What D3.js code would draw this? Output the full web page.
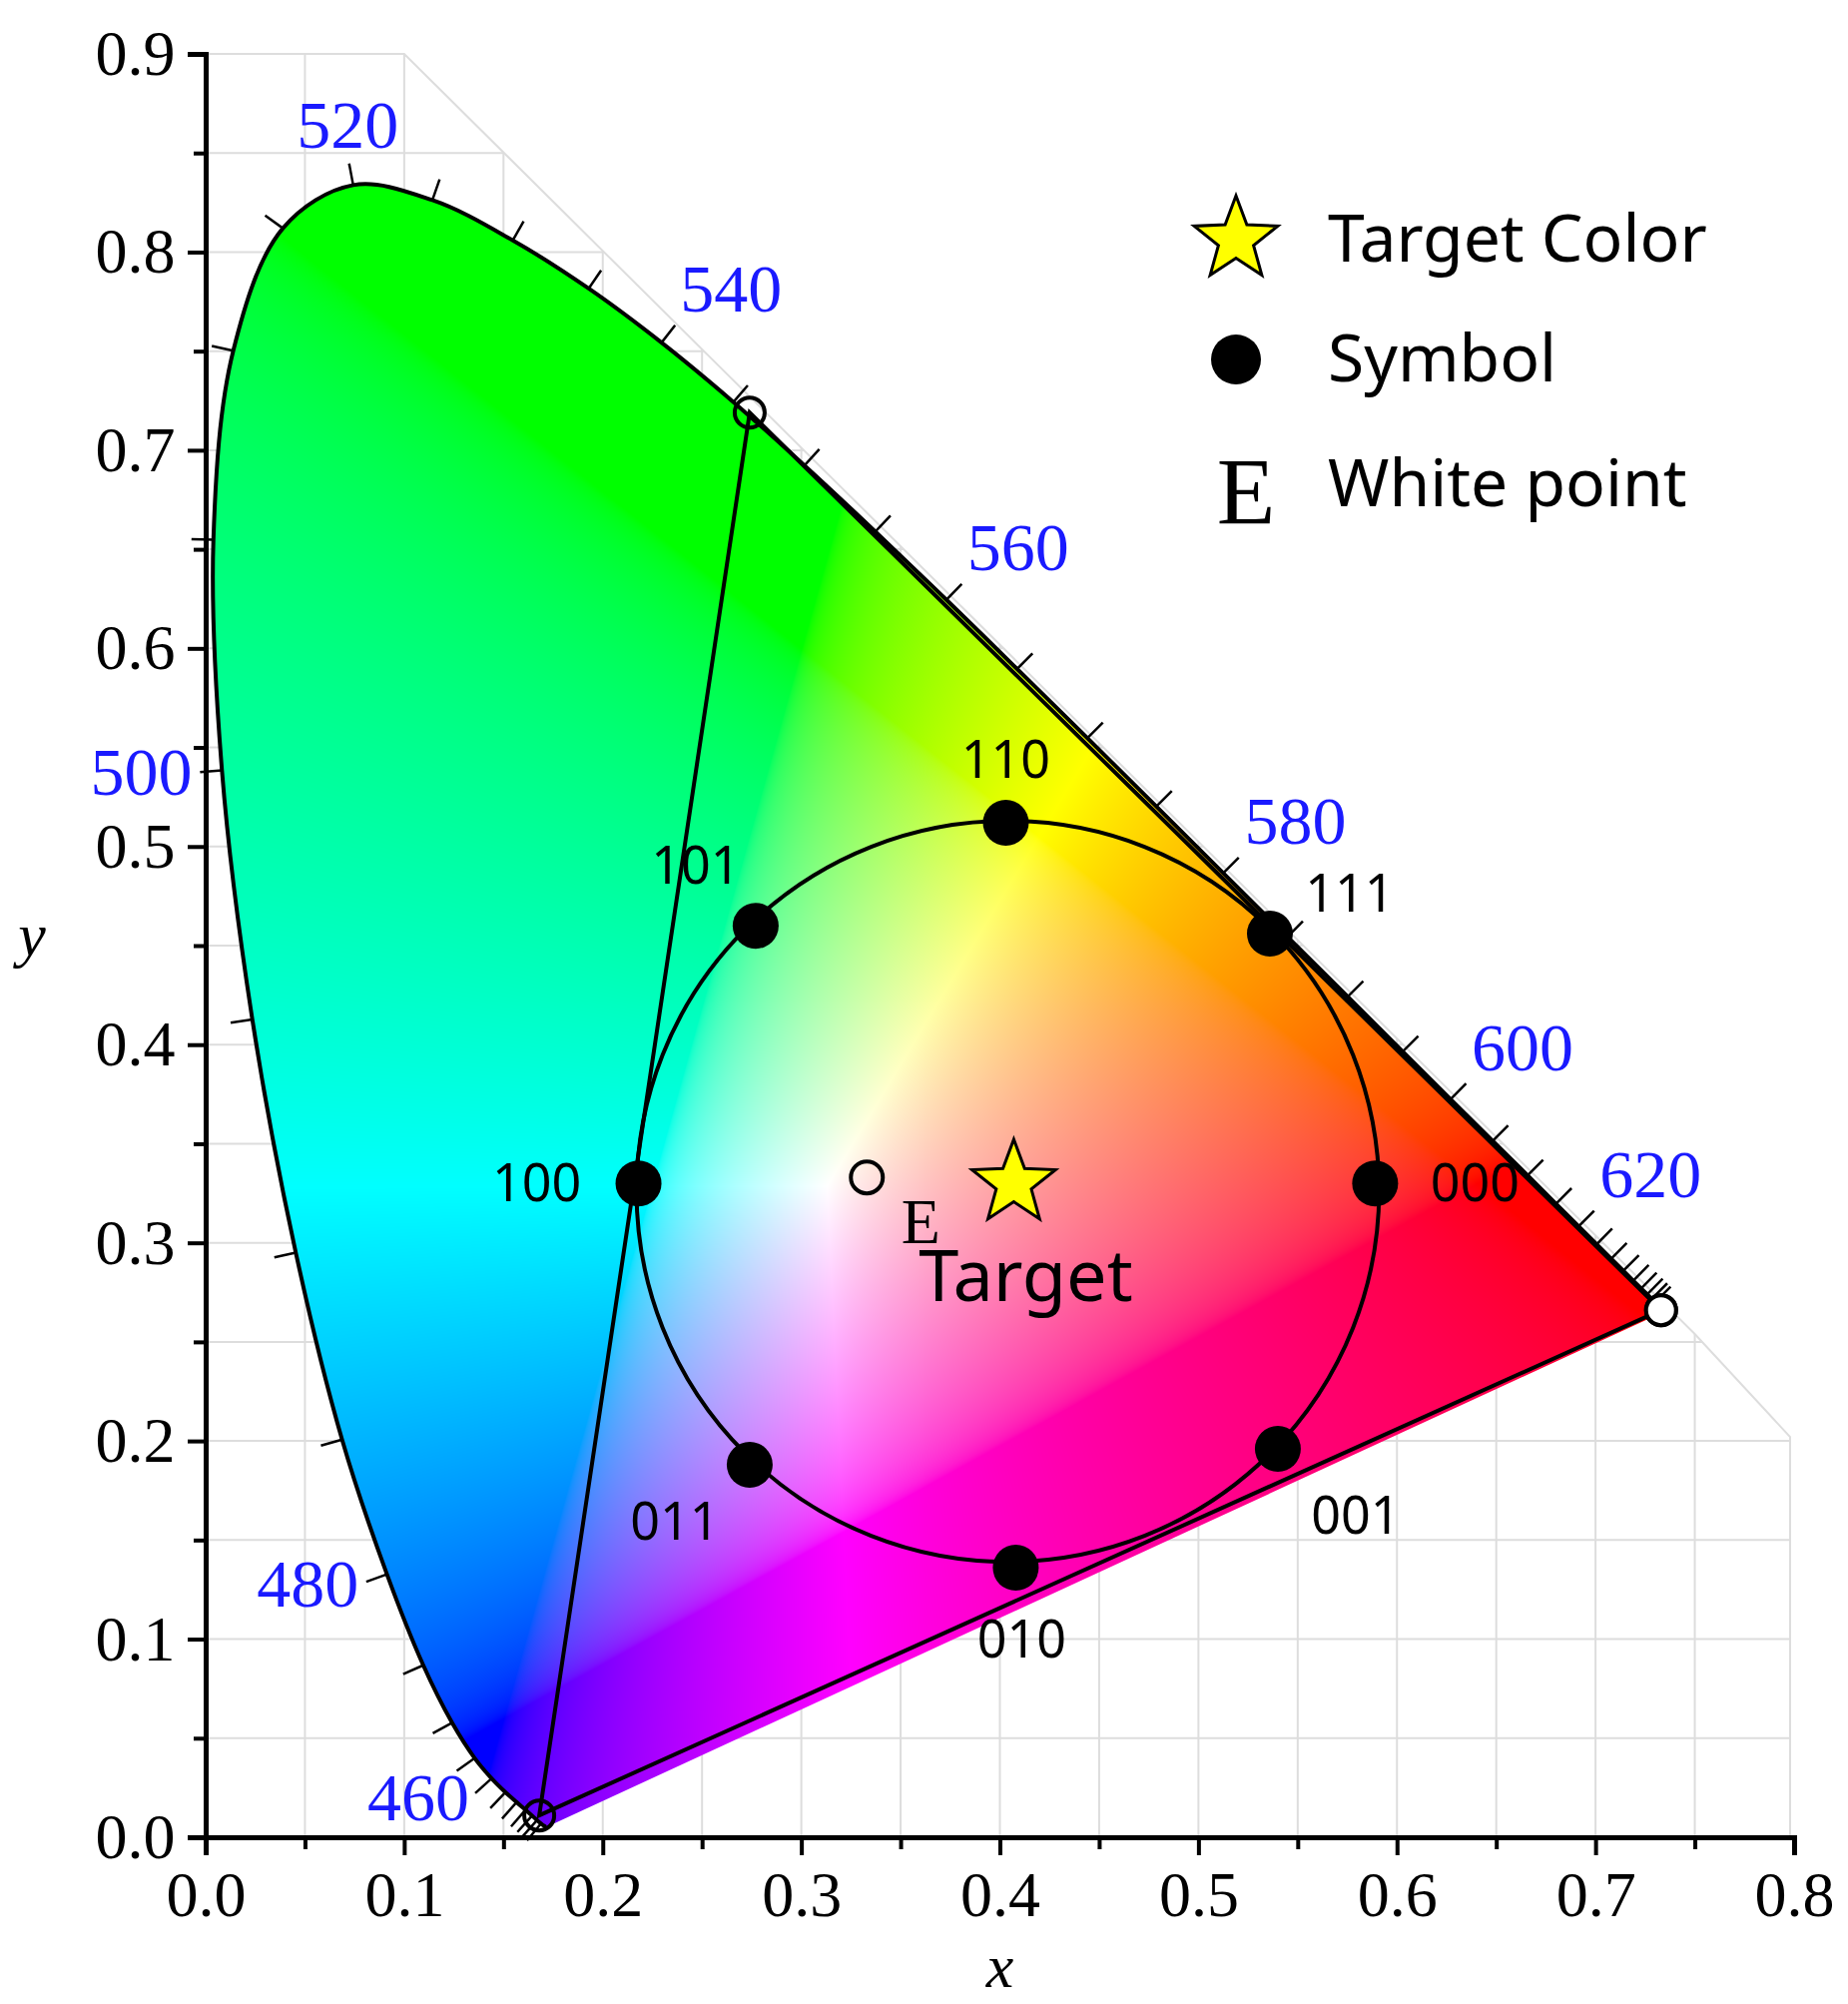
<!DOCTYPE html>
<html><head><meta charset="utf-8">
<script src="https://cdn.jsdelivr.net/npm/d3@7"></script>
<style>body{margin:0;background:#fff}</style>
</head><body><svg id="c" width="1851" height="2007"></svg>
<script>
// CIE 1931 spectral locus, [nm, x, y]
var locus = [
[380,0.1741,0.0050],[385,0.1740,0.0050],[390,0.1738,0.0049],[395,0.1736,0.0049],[400,0.1733,0.0048],
[405,0.1730,0.0048],[410,0.1726,0.0048],[415,0.1721,0.0048],[420,0.1714,0.0051],[425,0.1703,0.0058],
[430,0.1689,0.0069],[435,0.1669,0.0086],[440,0.1644,0.0109],[445,0.1611,0.0138],[450,0.1566,0.0177],
[455,0.1510,0.0227],[460,0.1440,0.0297],[465,0.1355,0.0399],[470,0.1241,0.0578],[475,0.1096,0.0868],
[480,0.0913,0.1327],[485,0.0687,0.2007],[490,0.0454,0.2950],[495,0.0235,0.4127],[500,0.0082,0.5384],
[505,0.0039,0.6548],[510,0.0139,0.7502],[515,0.0389,0.8120],[520,0.0743,0.8338],[525,0.1142,0.8262],
[530,0.1547,0.8059],[535,0.1929,0.7816],[540,0.2296,0.7543],[545,0.2658,0.7243],[550,0.3016,0.6923],
[555,0.3373,0.6589],[560,0.3731,0.6245],[565,0.4087,0.5896],[570,0.4441,0.5547],[575,0.4788,0.5202],
[580,0.5125,0.4866],[585,0.5448,0.4544],[590,0.5752,0.4242],[595,0.6029,0.3965],[600,0.6270,0.3725],
[605,0.6482,0.3514],[610,0.6658,0.3340],[615,0.6801,0.3197],[620,0.6915,0.3083],[625,0.7006,0.2993],
[630,0.7079,0.2920],[635,0.7140,0.2859],[640,0.7190,0.2809],[645,0.7230,0.2770],[650,0.7260,0.2740],
[655,0.7283,0.2717],[660,0.7300,0.2700],[665,0.7311,0.2689],[670,0.7320,0.2680],[680,0.7334,0.2666],
[690,0.7344,0.2656],[700,0.7347,0.2653]];
var tickNm = d3.range(430, 665, 5);
var labelNm = [460,480,500,520,540,560,580,600,620];

var gamut = [[0.733,0.266],[0.274,0.719],[0.168,0.011]];
var circleCenter = [0.404,0.326], circleR = 0.187;
var symbols = ["110","111","000","001","010","011","100","101"];
var symX = [0.403,0.536,0.589,0.540,0.408,0.274,0.218,0.277];
var symY = [0.512,0.456,0.330,0.196,0.136,0.188,0.330,0.460];
var symLabelOff = [[0,-45],[80,-22],[100,18],[78,85],[6,90],[-75,75],[-102,18],[-60,-42]];
var target = [0.407,0.330];
var whiteE = [0.333,0.333];
var gridOutline = [[0,0],[0,0.9],[0.1,0.9],[0.75,0.254],[0.798,0.202],[0.798,0],[0,0]];

var svg = d3.select("#c");
var x = d3.scaleLinear().domain([0,0.8]).range([206,1797]);
var y = d3.scaleLinear().domain([0,0.9]).range([1840,54]);
var serif = "'Liberation Serif', 'DejaVu Serif', serif";
var sans = "'Noto Sans', 'Open Sans', sans-serif";
var locusLine = d3.line().x(d=>x(d[1])).y(d=>y(d[2])).curve(d3.curveCatmullRom);
var locusIn = locus.filter(d=>d[0]>=420);

// grid
var defs = svg.append("defs");
defs.append("clipPath").attr("id","gclip").append("path")
  .attr("d", d3.line().x(d=>x(d[0])).y(d=>y(d[1]))(gridOutline));
defs.append("clipPath").attr("id","lclip").append("path")
  .attr("d", locusLine(locusIn)+"Z");
var g = svg.append("g").attr("clip-path","url(#gclip)");
d3.range(0.05,0.81,0.05).forEach(v=>g.append("line").attr("x1",x(v)).attr("x2",x(v)).attr("y1",y(0)).attr("y2",y(0.9)).attr("stroke","#ddd").attr("stroke-width",2));
d3.range(0.05,0.91,0.05).forEach(v=>g.append("line").attr("x1",x(0)).attr("x2",x(0.8)).attr("y1",y(v)).attr("y2",y(v)).attr("stroke","#ddd").attr("stroke-width",2));
svg.append("path").attr("d", d3.line().x(d=>x(d[0])).y(d=>y(d[1]))(gridOutline))
  .attr("fill","none").attr("stroke","#ddd").attr("stroke-width",2);

// chromaticity fill
var x0 = Math.floor(x(0)), x1 = Math.ceil(x(0.75)), y0 = Math.floor(y(0.85)), y1 = Math.ceil(y(0));
var cw = x1-x0, ch = y1-y0;
var cv = document.createElement("canvas"); cv.width = cw; cv.height = ch;
var ctx = cv.getContext("2d"), img = ctx.createImageData(cw, ch);
function gam(c){ return c<=0.0031308 ? 12.92*c : 1.055*Math.pow(c,1/2.4)-0.055; }
for (var j=0;j<ch;j++) for (var i=0;i<cw;i++) {
  var cx = x.invert(x0+i), cy = Math.max(y.invert(y0+j), 0.003);
  var X = cx/cy, Y = 1, Z = (1-cx-cy)/cy;
  var r = 3.2406*X-1.5372*Y-0.4986*Z, gg = -0.9689*X+1.8758*Y+0.0415*Z, b = 0.0557*X-0.2040*Y+1.0570*Z;
  r=Math.max(r,0); gg=Math.max(gg,0); b=Math.max(b,0);
  var m = Math.max(r,gg,b,1e-6);
  var k = (j*cw+i)*4;
  img.data[k]=255*gam(r/m); img.data[k+1]=255*gam(gg/m); img.data[k+2]=255*gam(b/m); img.data[k+3]=255;
}
ctx.putImageData(img,0,0);
svg.append("image").attr("x",x0).attr("y",y0).attr("width",cw).attr("height",ch)
  .attr("href", cv.toDataURL()).attr("clip-path","url(#lclip)");

// locus outline
svg.append("path").attr("d", locusLine(locusIn))
  .attr("fill","none").attr("stroke","#000").attr("stroke-width",4);

// locus ticks and labels (outward normal in screen coords)
function normalAt(nm){
  var idx = locus.findIndex(d=>d[0]===nm);
  var a = locus[Math.max(idx-1,0)], c = locus[Math.min(idx+1,locus.length-1)];
  var dx = x(c[1])-x(a[1]), dy = y(c[2])-y(a[2]);
  var L = Math.hypot(dx,dy);
  return {p:locus[idx], ox:dy/L, oy:-dx/L};
}
tickNm.forEach(function(nm){
  var n = normalAt(nm), px = x(n.p[1]), py = y(n.p[2]);
  svg.append("line").attr("x1",px).attr("y1",py).attr("x2",px+n.ox*22).attr("y2",py+n.oy*22)
    .attr("stroke","#000").attr("stroke-width",2.5);
});
labelNm.forEach(function(nm){
  var n = normalAt(nm), px = x(n.p[1]), py = y(n.p[2]);
  var anchor = n.ox < -0.4 ? "end" : (n.ox > 0.4 ? "start" : "middle");
  svg.append("text").attr("x",px+n.ox*30).attr("y",py+n.oy*30+(n.oy<-0.5? -8 : 22))
    .attr("text-anchor",anchor).attr("font-family",serif).attr("font-size",68)
    .attr("fill","#1a1aff").text(nm);
});

// gamut triangle
svg.append("path").attr("d", d3.line().x(d=>x(d[0])).y(d=>y(d[1]))(gamut)+"Z")
  .attr("fill","none").attr("stroke","#000").attr("stroke-width",4);
gamut.forEach(d=>svg.append("circle").attr("cx",x(d[0])).attr("cy",y(d[1])).attr("r",15)
  .attr("fill","none").attr("stroke","#000").attr("stroke-width",4));
svg.append("circle").attr("cx",x(gamut[0][0])).attr("cy",y(gamut[0][1])).attr("r",15).attr("fill","#fff").attr("stroke","#000").attr("stroke-width",4);

// symbol circle
svg.append("ellipse").attr("cx",x(circleCenter[0])).attr("cy",y(circleCenter[1]))
  .attr("rx",x(circleR)-x(0)).attr("ry",y(0)-y(circleR))
  .attr("fill","none").attr("stroke","#000").attr("stroke-width",4);
symbols.forEach(function(s,i){
  var px = x(symX[i]), py = y(symY[i]);
  svg.append("circle").attr("cx",px).attr("cy",py).attr("r",23).attr("fill","#000");
  svg.append("text").attr("x",px+symLabelOff[i][0]).attr("y",py+symLabelOff[i][1])
    .attr("text-anchor","middle").attr("font-family",sans).attr("font-size",52).text(s);
});

function star(cx,cy,R){
  var pts=[]; for (var k=0;k<10;k++){ var a=-Math.PI/2+k*Math.PI/5, rr = k%2?R*0.42:R; pts.push([cx+rr*Math.cos(a), cy+rr*Math.sin(a)]); }
  return d3.line()(pts)+"Z";
}
svg.append("path").attr("d",star(x(target[0]),y(target[1]),44)).attr("fill","#ffff00").attr("stroke","#000").attr("stroke-width",3);
svg.append("text").attr("x",x(target[0])+12).attr("y",y(target[1])+118).attr("text-anchor","middle")
  .attr("font-family",sans).attr("font-size",72).text("Target");
svg.append("circle").attr("cx",x(whiteE[0])).attr("cy",y(whiteE[1])).attr("r",16).attr("fill","none").attr("stroke","#000").attr("stroke-width",4);
svg.append("text").attr("x",x(whiteE[0])+54).attr("y",y(whiteE[1])+66).attr("text-anchor","middle")
  .attr("font-family",serif).attr("font-size",64).text("E");

// axes
var xa = svg.append("g").attr("transform","translate(0,"+y(0)+")")
  .call(d3.axisBottom(x).tickValues(d3.range(0,0.801,0.05)).tickSize(18).tickFormat(d=>Math.round(d*100)%10===0?d.toFixed(1):""));
var ya = svg.append("g").attr("transform","translate("+x(0)+",0)")
  .call(d3.axisLeft(y).tickValues(d3.range(0,0.901,0.05)).tickSize(18).tickFormat(d=>Math.round(d*100)%10===0?d.toFixed(1):""));
[xa,ya].forEach(function(a){
  a.select(".domain").attr("stroke-width",5);
  a.selectAll(".tick line").attr("stroke-width",4);
  a.selectAll(".tick text").attr("font-family",serif).attr("font-size",64).attr("fill","#000");
});
xa.selectAll(".tick").filter(d=>Math.round(d*100)%10!==0).select("line").attr("y2",12);
ya.selectAll(".tick").filter(d=>Math.round(d*100)%10!==0).select("line").attr("x2",-12);
xa.selectAll(".tick text").attr("dy","0.9em");
ya.selectAll(".tick text").attr("dx","-0.15em");
svg.append("text").attr("x",x(0.4)).attr("y",1990).attr("text-anchor","middle").attr("font-family",serif)
  .attr("font-style","italic").attr("font-size",62).text("x");
svg.append("text").attr("x",32).attr("y",y(0.45)+10).attr("text-anchor","middle").attr("font-family",serif)
  .attr("font-style","italic").attr("font-size",62).text("y");

// legend
var lg = svg.append("g").attr("transform","translate(1238,240)");
lg.append("path").attr("d",star(0,0,44)).attr("fill","#ffff00").attr("stroke","#000").attr("stroke-width",3);
lg.append("circle").attr("cx",0).attr("cy",120).attr("r",25).attr("fill","#000");
lg.append("text").attr("x",10).attr("y",285).attr("text-anchor","middle").attr("font-family",serif).attr("font-size",96).text("E");
[["Target Color",0],["Symbol",120],["White point",245]].forEach(function(d){
  lg.append("text").attr("x",92).attr("y",d[1]+22).attr("font-family",sans).attr("font-size",66).text(d[0]);
});
</script></body></html>
